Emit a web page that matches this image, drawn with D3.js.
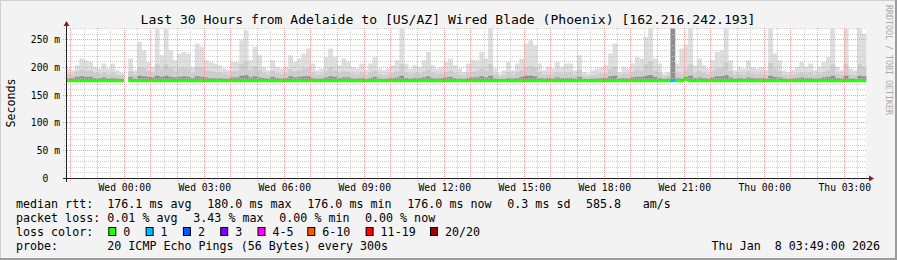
<!DOCTYPE html>
<html>
<head>
<meta charset="utf-8">
<script src="https://cdn.jsdelivr.net/npm/d3@7/dist/d3.min.js"></script>
<style>
  html, body { margin: 0; padding: 0; background: #f3f3f3; }
  svg { display: block; font-family: "DejaVu Sans Mono", monospace; }
  text { white-space: pre; }
</style>
</head>
<body>
<svg id="chart" width="897" height="260"></svg>
<script>
// ── Data ───────────────────────────────────────────────────────────────────
const TITLE = 'Last 30 Hours from Adelaide to [US/AZ] Wired Blade (Phoenix) [162.216.242.193]';
const START = Date.UTC(2026, 0, 6, 21, 49);
const END   = Date.UTC(2026, 0, 8, 3, 49);
const STEP_MIN = 10;                       // one column = 10 minutes
const Y_MAX = 270;
const yTicks = [0, 50, 100, 150, 200, 250];

// upper edge of the smoke (slowest ping), ms
const hiMs = [
  197,194,203,215,212,209,200,197,206,197,206,194,189,null,215,194,245,230,209,200,
  269,221,269,230,212,224,227,224,200,242,236,212,209,206,203,197,194,209,209,248,
  266,212,236,221,200,194,212,200,197,200,221,209,215,224,233,206,194,197,218,233,
  218,203,215,209,200,197,206,194,206,218,197,194,197,203,212,269,206,197,203,200,
  212,227,203,197,200,209,215,203,197,191,206,213,212,227,215,269,197,188,194,209,
  194,206,215,242,248,239,206,194,200,197,209,200,206,206,194,221,191,188,194,197,
  200,203,224,242,191,200,197,206,218,215,254,269,215,206,188,191,269,206,233,240,
  269,203,215,203,197,212,227,230,269,212,194,200,197,212,200,197,200,194,269,224,
  212,194,191,194,200,209,200,206,194,200,209,218,269,200,194,269,197,194,269,260
];
// middle band of the smoke, ms
const midMs = [
  187,186,192,195,193,194,189,188,190,187,189,186,185,null,192,186,200,198,193,190,
  205,197,205,198,193,197,198,196,189,200,199,194,192,191,190,188,186,192,193,205,
  210,194,200,195,189,186,193,188,187,189,196,192,194,197,199,190,186,187,193,200,
  194,189,193,191,188,187,190,185,190,194,187,185,187,189,192,205,190,187,189,188,
  192,196,189,187,188,191,193,189,187,185,190,191,193,197,193,205,187,183,185,191,
  186,190,194,200,202,199,190,186,188,187,191,188,190,190,186,195,184,183,185,187,
  188,189,196,200,185,188,187,191,195,194,205,210,194,190,183,185,269,190,187,196,
  205,189,193,189,187,192,197,199,208,193,186,188,187,192,188,187,188,186,207,196,
  192,186,185,186,188,191,188,190,186,188,191,194,205,188,186,205,187,186,205,200
];
// dark core of the smoke just above the median, ms
const darkMs = [
  179,180,182,183,182,182,180,180,181,179,180,179,178,null,182,179,184,183,182,181,
  184,182,184,182,181,182,183,182,180,183,182,181,180,180,180,179,179,181,181,184,
  185,181,183,181,180,179,182,180,179,180,183,181,182,183,183,180,179,179,181,183,
  182,180,181,181,179,179,180,178,180,182,179,178,179,180,181,184,180,179,180,180,
  181,183,180,179,180,181,182,180,179,178,180,181,181,183,181,184,179,178,178,180,
  179,180,182,184,184,183,180,179,180,179,181,180,180,180,179,182,178,178,179,179,
  180,180,183,184,179,180,179,181,182,182,184,185,182,180,178,179,269,180,179,182,
  184,180,181,180,179,181,183,183,185,181,179,180,179,181,180,179,180,179,184,182,
  181,179,178,179,180,181,180,180,179,180,181,182,184,180,179,184,179,179,184,183
];
// median rtt, ms
const medianMs = [
  176,176,176,176,176,176,176,176,176,176,176,176,176,null,176,176,176,176,176,176,
  176,176,176,176,176,176,176,176,176,176,176,176,176,176,176,176,176,176,176,176,
  176,176,176,176,176,176,176,176,176,176,176,176,176,176,176,176,176,176,176,176,
  176,176,176,176,176,176,176,176,176,176,176,176,176,176,176,176,176,176,176,176,
  176,176,176,176,176,176,176,176,176,176,176,176,176,176,176,176,176,176,176,176,
  176,176,176,176,176,176,176,176,176,176,176,176,176,176,176,176,176,176,176,176,
  176,176,176,176,176,176,176,176,176,176,176,176,176,176,176,176,176,176,176,178,
  176,176,176,176,176,176,176,176,176,176,176,176,176,176,176,176,176,176,176,176,
  176,176,176,176,176,176,176,176,176,176,176,176,176,176,176,176,176,176,176,176
];
// lost pings per column (of 20)
const lossCount = [
  0,0,0,0,0,0,0,0,0,0,0,0,0,0,0,0,0,0,0,0, 0,0,0,0,0,0,0,0,0,0,0,0,0,0,0,0,0,0,0,0,
  0,0,0,0,0,0,0,0,0,0,0,0,0,0,0,0,0,0,0,0, 0,0,0,0,0,0,0,0,0,0,0,0,0,0,0,0,0,0,0,0,
  0,0,0,0,0,0,0,0,0,0,0,0,0,0,0,0,0,0,0,0, 0,0,0,0,0,0,0,0,0,0,0,0,0,0,0,0,0,0,0,0,
  0,0,0,0,0,0,0,0,0,0,0,0,0,0,0,0,1,0,0,0, 0,0,0,0,0,0,0,0,0,0,0,0,0,0,0,0,0,0,0,0,
  0,0,0,0,0,0,0,0,0,0,0,0,0,0,0,0,0,0,0,0
];

const lossLabels = ['0', '1', '2', '3', '4-5', '6-10', '11-19', '20/20'];
const lossUpper  = [0, 1, 2, 3, 5, 10, 19, 20];
const lossColors = ['#26ff00', '#00b8ff', '#0059ff', '#7e00ff', '#ff00ff', '#ff5500', '#ff0000', '#a10000'];

const rttStats  = ['176.1 ms avg', '180.0 ms max', '176.0 ms min', '176.0 ms now', '0.3 ms sd', '585.8', 'am/s'];
const lossStats = ['0.01 % avg', '3.43 % max', '0.00 % min', '0.00 % now'];
const PROBE = '20 ICMP Echo Pings (56 Bytes) every 300s';
const STAMP = 'Thu Jan  8 03:49:00 2026';

// ── Layout ─────────────────────────────────────────────────────────────────
const W = 897, H = 260;
const PL = 66, PR = 866, PT = 28, PB = 178;
const FONT_S = 9.7, FONT_M = 11.66, FONT_T = 13.1;

const svg = d3.select('#chart');

// background + 3d frame
svg.append('rect').attr('width', W).attr('height', H).attr('fill', '#f3f3f3');
svg.append('path').attr('d', `M0,${H} V0 H${W}`).attr('fill', 'none').attr('stroke', '#cfcfcf').attr('stroke-width', 2);
svg.append('path').attr('d', `M0,${H - 1} H${W - 1} V0`).attr('fill', 'none').attr('stroke', '#9c9c9c').attr('stroke-width', 2);

svg.append('rect').attr('x', PL).attr('y', PT).attr('width', PR - PL).attr('height', PB - PT).attr('fill', '#fff');

const xs = d3.scaleUtc().domain([START, END]).range([PL, PR]);
const ys = d3.scaleLinear().domain([0, Y_MAX]).range([PB, PT]);

const px = v => Math.floor(v) + 0.5;
const py = v => Math.round(v) + 0.5;

// ── Smoke ──────────────────────────────────────────────────────────────────
const cols = hiMs.map((hi, i) => ({
  i, hi, mid: midMs[i], dark: darkMs[i], med: medianMs[i], loss: lossCount[i],
  x0: xs(START + i * STEP_MIN * 60000),
  x1: xs(START + (i + 1) * STEP_MIN * 60000),
})).filter(d => d.hi != null);

const smoke = svg.append('g');
const layer = (key, color) => smoke.append('g').selectAll('rect').data(cols).join('rect')
  .attr('x', d => d.x0).attr('width', d => d.x1 - d.x0 + 0.3)
  .attr('y', d => ys(Math.min(d[key], d.hi)))
  .attr('height', d => Math.max(0, ys(d.med) - ys(Math.min(d[key], d.hi))))
  .attr('fill', color);
layer('hi', '#dedede');
layer('mid', '#cdcdcd');
layer('dark', '#8f8f8f');

// ── Grid (over the smoke, like rrdtool) ────────────────────────────────────
const grid = svg.append('g');
const minorX = xs.ticks(d3.utcMinute.every(30)).filter(d => d.getUTCMinutes() === 30);
const majorX = xs.ticks(d3.utcHour.every(1));
const minorY = d3.range(10, Y_MAX + 1, 10).filter(v => v % 50);
const majorY = d3.range(50, Y_MAX + 1, 50);

grid.selectAll('.vmin').data(minorX).join('line')
  .attr('x1', d => px(xs(d))).attr('x2', d => px(xs(d)))
  .attr('y1', PT).attr('y2', PB + 2)
  .attr('stroke', '#c4c4c4').attr('stroke-opacity', 0.8).attr('stroke-dasharray', '1,1');
grid.selectAll('.hmin').data(minorY).join('line')
  .attr('x1', PL - 2).attr('x2', PR)
  .attr('y1', d => py(ys(d))).attr('y2', d => py(ys(d)))
  .attr('stroke', '#c4c4c4').attr('stroke-opacity', 0.8).attr('stroke-dasharray', '1,1');
grid.selectAll('.vmaj').data(majorX).join('line')
  .attr('x1', d => px(xs(d))).attr('x2', d => px(xs(d)))
  .attr('y1', PT).attr('y2', PB + 3)
  .attr('stroke', '#f08a8a').attr('stroke-opacity', 0.8).attr('stroke-dasharray', '1,1');
grid.selectAll('.hmaj').data(majorY).join('line')
  .attr('x1', PL - 3).attr('x2', PR)
  .attr('y1', d => py(ys(d))).attr('y2', d => py(ys(d)))
  .attr('stroke', '#f08a8a').attr('stroke-opacity', 0.8).attr('stroke-dasharray', '1,1');

// ── Median line coloured by loss ───────────────────────────────────────────
const lossColor = n => lossColors[lossUpper.findIndex(u => n <= u)];
svg.append('g').selectAll('rect').data(cols).join('rect')
  .attr('x', d => d.x0).attr('width', d => d.x1 - d.x0 + 0.3)
  .attr('y', d => ys(d.med) - 1).attr('height', 3)
  .attr('fill', d => lossColor(d.loss));

// ── Axes ───────────────────────────────────────────────────────────────────
const xAxis = svg.append('g').attr('transform', `translate(0,${PB})`)
  .call(d3.axisBottom(xs).ticks(d3.utcHour.every(3)).tickFormat(d3.utcFormat('%a %H:%M')).tickSize(0));
xAxis.select('.domain').remove();
xAxis.selectAll('text').attr('y', 13).attr('dy', 0)
  .attr('font-size', FONT_S).attr('font-family', '"DejaVu Sans Mono", monospace').attr('fill', '#000');

const yAxis = svg.append('g').attr('transform', `translate(${PL},0)`)
  .call(d3.axisLeft(ys).tickValues(yTicks).tickFormat(d => d ? `${d} m` : '0\u00a0\u00a0').tickSize(0).tickPadding(6));
yAxis.select('.domain').remove();
yAxis.selectAll('text').attr('dy', '0.36em')
  .attr('font-size', FONT_S).attr('font-family', '"DejaVu Sans Mono", monospace').attr('fill', '#000');

svg.append('line').attr('x1', PL + 0.5).attr('x2', PL + 0.5).attr('y1', PB + 4).attr('y2', PT - 3).attr('stroke', '#222');
svg.append('line').attr('x1', PL - 3).attr('x2', PR + 4).attr('y1', PB + 0.5).attr('y2', PB + 0.5).attr('stroke', '#222');
svg.append('path').attr('d', `M${PL + 0.5},${PT - 7} L${PL + 3.5},${PT - 2} L${PL - 2.5},${PT - 2} Z`).attr('fill', '#8b1a1a');
svg.append('path').attr('d', `M${PR + 8},${PB + 0.5} L${PR + 3},${PB - 2.5} L${PR + 3},${PB + 3.5} Z`).attr('fill', '#8b1a1a');

// ── Titles ─────────────────────────────────────────────────────────────────
svg.append('text').attr('x', 448).attr('y', 23.5).attr('text-anchor', 'middle')
  .attr('font-size', FONT_T).attr('fill', '#000').text(TITLE);
svg.append('text').attr('transform', `translate(15,${(PT + PB) / 2}) rotate(-90)`).attr('text-anchor', 'middle')
  .attr('font-size', FONT_M).attr('fill', '#000').text('Seconds');
svg.append('text').attr('transform', 'translate(886,5) rotate(90)')
  .attr('font-size', 8.3).attr('fill', '#a9a9a9').text('RRDTOOL / TOBI OETIKER');

// ── Legend ─────────────────────────────────────────────────────────────────
const leg = svg.append('g').attr('font-size', FONT_M).attr('fill', '#000');
const LX = 16, VX = 107.3;
const rows = [208, 222, 236, 250];

leg.append('text').attr('x', LX).attr('y', rows[0]).text('median rtt:');
const rttX = [VX, 207.3, 307.3, 407.3, 507.3, 586, 642.7];
leg.selectAll('.rtt').data(rttStats).join('text')
  .attr('x', (d, i) => rttX[i]).attr('y', rows[0]).text(d => d);

leg.append('text').attr('x', LX).attr('y', rows[1]).text('packet loss:');
const lossX = [VX, 193.3, 279.3, 365];
leg.selectAll('.pl').data(lossStats).join('text')
  .attr('x', (d, i) => lossX[i]).attr('y', rows[1]).text(d => d);

leg.append('text').attr('x', LX).attr('y', rows[2]).text('loss color:');
const boxX = [108.3, 145.6, 182.9, 220.2, 257.5, 307.3, 365.6, 430];
const lc = leg.selectAll('.lc').data(lossLabels).join('g');
lc.append('rect').attr('x', (d, i) => boxX[i] + 0.5).attr('y', 227.5).attr('width', 7).attr('height', 8)
  .attr('fill', (d, i) => lossColors[i]).attr('stroke', '#000');
lc.append('text').attr('x', (d, i) => boxX[i] + 15).attr('y', rows[2]).text(d => d);

leg.append('text').attr('x', LX).attr('y', rows[3]).text('probe:');
leg.append('text').attr('x', VX).attr('y', rows[3]).text(PROBE);
leg.append('text').attr('x', 880).attr('y', rows[3]).attr('text-anchor', 'end').text(STAMP);
</script>
</body>
</html>
